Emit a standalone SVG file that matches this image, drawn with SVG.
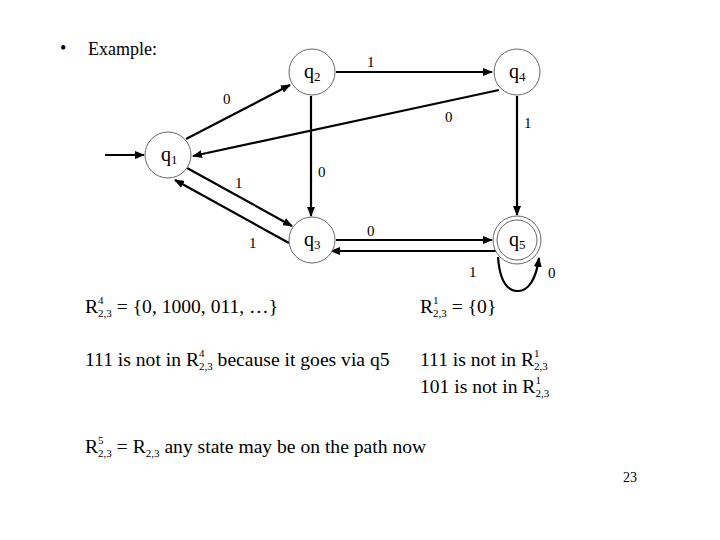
<svg xmlns="http://www.w3.org/2000/svg" width="720" height="540" viewBox="0 0 720 540">
<defs>
<marker id="ah" markerWidth="10" markerHeight="8" refX="9" refY="4" orient="auto" markerUnits="userSpaceOnUse">
<path d="M0,0 L10,4 L0,8 Z" fill="#000"/>
</marker>
<style>
.st{fill:#fff;stroke:#666;stroke-width:1}
.e{stroke:#000;stroke-width:2.2;fill:none;marker-end:url(#ah)}
.t{font-family:"Liberation Serif","Times New Roman",serif;fill:#000}
.ql{font-size:20px}
.el{font-size:15px}
.bt{font-size:19.6px}
.sp{font-size:11px}
</style>
</defs>
<rect width="720" height="540" fill="#fff"/>
<text class="t" x="60" y="54" font-size="18">•</text>
<text class="t" x="88" y="55" font-size="18">Example:</text>

<g id="connectors">
<line class="e" x1="105" y1="155" x2="144" y2="155"/>
<line class="e" x1="186" y1="139" x2="290" y2="85"/>
<line class="e" x1="336" y1="72" x2="492" y2="72"/>
<line class="e" x1="499" y1="90" x2="193" y2="156"/>
<line class="e" x1="311" y1="96" x2="311" y2="216"/>
<line class="e" x1="517" y1="96" x2="517" y2="215"/>
<line class="e" x1="187" y1="168" x2="292" y2="226"/>
<line class="e" x1="289" y1="243" x2="175" y2="180"/>
<line class="e" x1="336" y1="240" x2="492" y2="240"/>
<line class="e" x1="496" y1="251" x2="331" y2="251"/>
<path class="e" d="M498,257 C500,285 510,291 518,291 C528,291 536,280 539,258"/>
<text class="t el" x="223" y="104">0</text>
<text class="t el" x="367" y="67">1</text>
<text class="t el" x="445" y="122">0</text>
<text class="t el" x="318" y="177">0</text>
<text class="t el" x="524" y="128">1</text>
<text class="t el" x="235" y="188">1</text>
<text class="t el" x="249" y="248">1</text>
<text class="t el" x="367" y="236">0</text>
<text class="t el" x="469" y="277">1</text>
<text class="t el" x="548" y="278">0</text>
</g>

<g id="q1">
<circle class="st" cx="168" cy="155" r="23"/>
<text class="t ql" x="161" y="161">q<tspan font-size="13" dy="3">1</tspan></text>
</g>
<g id="q2">
<circle class="st" cx="312" cy="72" r="23"/>
<text class="t ql" x="304" y="78">q<tspan font-size="13" dy="3">2</tspan></text>
</g>
<g id="q3">
<circle class="st" cx="312" cy="240" r="23"/>
<text class="t ql" x="304" y="246">q<tspan font-size="13" dy="3">3</tspan></text>
</g>
<g id="q4">
<circle class="st" cx="517" cy="72" r="23"/>
<text class="t ql" x="509" y="78">q<tspan font-size="13" dy="3">4</tspan></text>
</g>
<g id="q5">
<circle class="st" cx="517" cy="240" r="24"/>
<circle class="st" cx="517" cy="240" r="20"/>
<text class="t ql" x="509" y="246">q<tspan font-size="13" dy="3">5</tspan></text>
</g>

<g id="notes" class="t bt">
<text x="85" y="313">R<tspan class="sp" dy="-9">4</tspan><tspan class="sp" dx="-5.5" dy="13">2,3</tspan><tspan dy="-4"> = {0, 1000, 011, …}</tspan></text>
<text x="85" y="366">111 is not in R<tspan class="sp" dy="-9">4</tspan><tspan class="sp" dx="-5.5" dy="13">2,3</tspan><tspan dy="-4"> because it goes via  q5</tspan></text>
<text x="420" y="313">R<tspan class="sp" dy="-9">1</tspan><tspan class="sp" dx="-5.5" dy="13">2,3</tspan><tspan dy="-4"> = {0}</tspan></text>
<text x="420" y="366">111 is not in R<tspan class="sp" dy="-9">1</tspan><tspan class="sp" dx="-5.5" dy="13">2,3</tspan></text>
<text x="420" y="393">101 is not in R<tspan class="sp" dy="-9">1</tspan><tspan class="sp" dx="-5.5" dy="13">2,3</tspan></text>
<text x="85" y="453">R<tspan class="sp" dy="-9">5</tspan><tspan class="sp" dx="-5.5" dy="13">2,3</tspan><tspan dy="-4"> = R</tspan><tspan class="sp" dy="4">2,3</tspan><tspan dy="-4"> any state may be on the path now</tspan></text>
<text x="623" y="482" font-size="14">23</text>
</g>
</svg>
